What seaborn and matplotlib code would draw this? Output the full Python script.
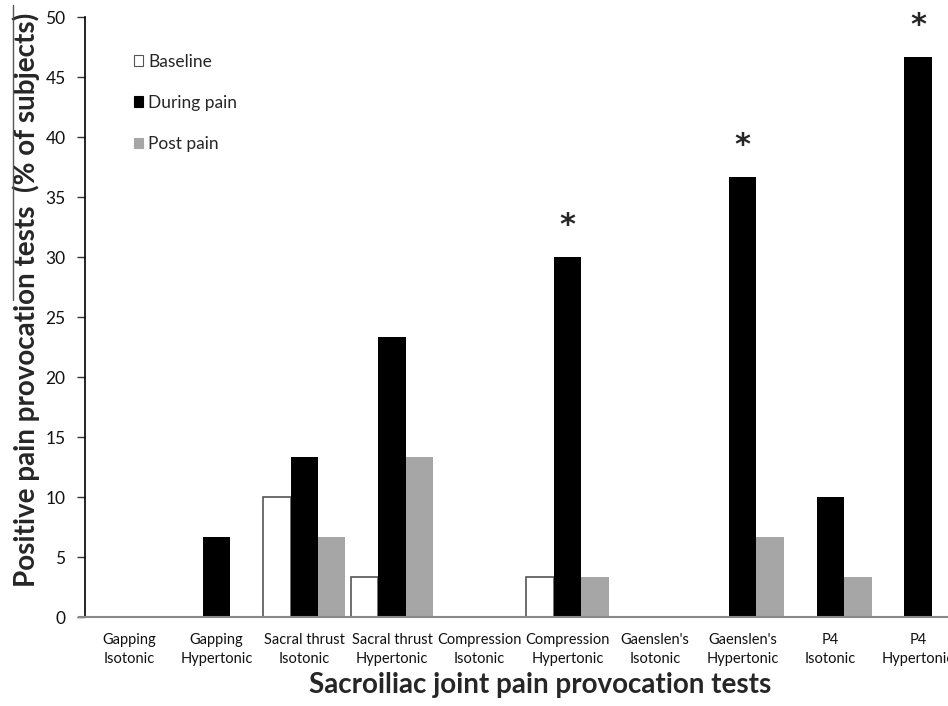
import matplotlib
matplotlib.use("Agg")
import matplotlib.pyplot as plt
from matplotlib.lines import Line2D
from matplotlib.patches import Patch
import seaborn as sns
import pandas as pd

categories = ["Gapping\nIsotonic", "Gapping\nHypertonic", "Sacral thrust\nIsotonic",
              "Sacral thrust\nHypertonic", "Compression\nIsotonic", "Compression\nHypertonic",
              "Gaenslen's\nIsotonic", "Gaenslen's\nHypertonic", "P4\nIsotonic", "P4\nHypertonic"]
series = ["Baseline", "During pain", "Post pain"]
baseline = [0, 0, 10, 3.33, 0, 3.33, 0, 0, 0, 0]
during = [0, 6.67, 13.33, 23.33, 0, 30, 0, 36.67, 10, 46.67]
post = [0, 0, 6.67, 13.33, 0, 3.33, 0, 6.67, 3.33, 0]
significant = [False, False, False, False, False, True, False, True, False, True]
yticks = list(range(0, 51, 5))

rows = []
for s, vals in zip(series, [baseline, during, post]):
    for c, v in zip(categories, vals):
        rows.append({"test": c, "series": s, "value": v})
df = pd.DataFrame(rows)

sns.set_style("white")
plt.rcParams["font.family"] = ["Lato", "DejaVu Sans"]

colors = {"Baseline": "#ffffff", "During pain": "#000000", "Post pain": "#a6a6a6"}

fig = plt.figure(figsize=(9.48, 7.06), dpi=100)
ax = fig.add_axes([85 / 948, 89 / 706, 877 / 948, 600 / 706])

sns.barplot(data=df, x="test", y="value", hue="series", order=categories,
            hue_order=series, palette=colors, width=0.94, gap=0,
            saturation=1, ax=ax, legend=False, linewidth=0)

for bar, (_, r) in zip(ax.patches, df.iterrows()):
    if r["series"] == "Baseline":
        bar.set_edgecolor("#555555")
        bar.set_linewidth(1.2)
    else:
        bar.set_linewidth(0)

ax.set_xlim(-0.5, len(categories) - 0.5)
ax.set_ylim(0, 50)
ax.set_yticks(yticks)
ax.tick_params(axis="y", which="major", left=True, length=6, width=1, color="#333333",
               labelsize=12.5, pad=8)
ax.tick_params(axis="x", bottom=False, labelsize=10.5, pad=8)
for lbl in ax.get_xticklabels():
    lbl.set_color("#111111")
    lbl.set_linespacing(1.45)
for lbl in ax.get_yticklabels():
    lbl.set_color("#111111")

sns.despine(ax=ax, top=True, right=True)
ax.spines["left"].set_color("#000000")
ax.spines["left"].set_linewidth(1.2)
ax.spines["bottom"].set_color("#888888")
ax.spines["bottom"].set_linewidth(1.5)
ax.spines["bottom"].set_bounds(-0.57, len(categories) - 0.5)

ax.set_xlabel("Sacroiliac joint pain provocation tests", fontsize=20,
              fontweight="bold")
ax.xaxis.set_label_coords(0.519, -0.114)
ax.xaxis.label.set_va("center")
ax.set_ylabel("Positive pain provocation tests  (% of subjects)", fontsize=20,
              fontweight="bold")
ax.yaxis.set_label_coords(-0.051, 0.528)

for i, (v, sig) in enumerate(zip(during, significant)):
    if sig:
        ax.text(i, v + 2.6, "*", ha="center", va="center", fontsize=22,
                fontweight="bold", family="DejaVu Sans")

handles = [Patch(facecolor=colors[s], edgecolor="#555555" if s == "Baseline" else colors[s],
                 linewidth=0.8) for s in series]
fig.legend(handles, series, loc="upper left", bbox_to_anchor=(118 / 948, 1 - 38 / 706),
           frameon=False, fontsize=12.5, handlelength=0.55, handleheight=0.55,
           handletextpad=0.3, labelspacing=1.45)

fig.add_artist(Line2D([13 / 948, 13 / 948], [1 - 5 / 706, 1 - 300 / 706],
                      color="#555555", linewidth=1))

fig.savefig("out.png", dpi=100)
